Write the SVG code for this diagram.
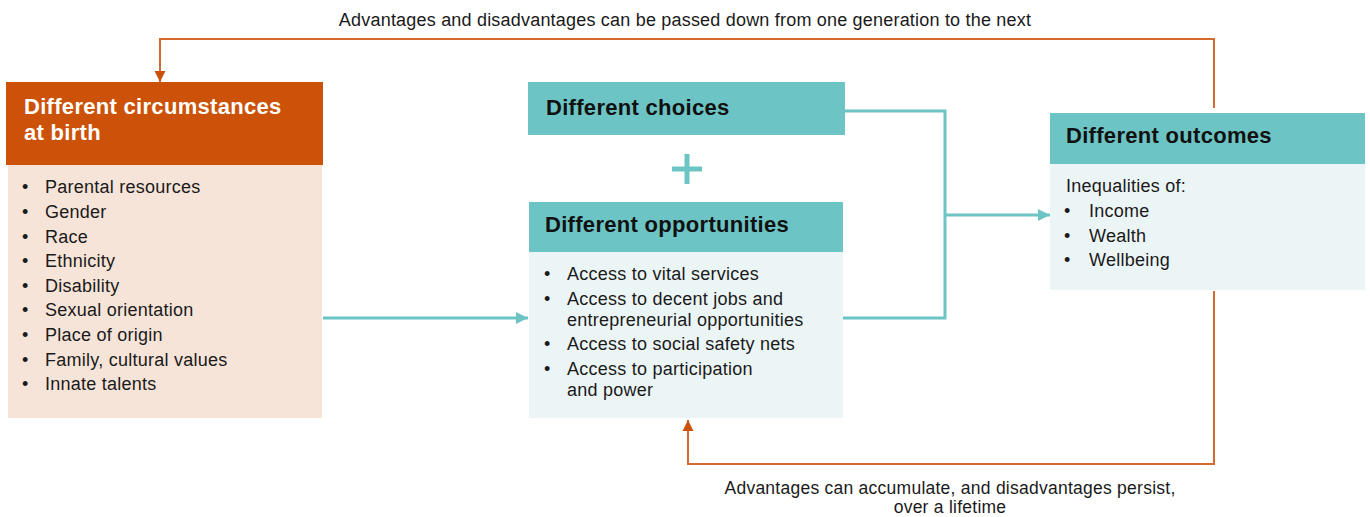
<svg xmlns="http://www.w3.org/2000/svg" width="1370" height="517" viewBox="0 0 1370 517">
<defs>
<style>
text{font-family:"Liberation Sans",Arial,sans-serif;fill:#1a1a1a}
.t{font-size:22px;font-weight:bold;fill:#111;letter-spacing:0.3px}
.tw{font-size:22px;font-weight:bold;fill:#fff;letter-spacing:0.3px}
.b{font-size:18px;letter-spacing:0.25px}
.l{font-size:18px;letter-spacing:0.2px}
.l2{font-size:17.5px;letter-spacing:0.25px}
.teal{fill:#6dc4c4}
.lt{fill:#ecf5f6}
.cl{fill:none;stroke:#6dc4c4;stroke-width:3}
.ol{fill:none;stroke:#d46a2e;stroke-width:2}
</style>
<marker id="at" viewBox="0 0 10 10" refX="10" refY="5" markerWidth="12" markerHeight="16" markerUnits="userSpaceOnUse" orient="auto"><path d="M0,0L10,5L0,10Z" fill="#6dc4c4"/></marker>
<marker id="ao" viewBox="0 0 10 10" refX="10" refY="5" markerWidth="11" markerHeight="16" markerUnits="userSpaceOnUse" orient="auto"><path d="M0,0L10,5L0,10Z" fill="#cb5208"/></marker>
</defs>
<rect width="1370" height="517" fill="#fff"/>
<g id="connectors">
<path class="cl" d="M845,111H945V318H843"/>
<path class="cl" d="M945,215H1050" marker-end="url(#at)"/>
<path class="cl" d="M323,318H528" marker-end="url(#at)"/>
<path class="ol" d="M1214,108V39H160V82" marker-end="url(#ao)"/>
<path class="ol" d="M1214,291V464H688V420" marker-end="url(#ao)"/>
<rect x="684.5" y="154" width="5" height="30" class="teal"/>
<rect x="672" y="166.5" width="30" height="5" class="teal"/>
</g>
<g id="label-top"><text class="l" x="685" y="26" text-anchor="middle">Advantages and disadvantages can be passed down from one generation to the next</text></g>
<g id="label-bottom"><text class="l2" x="950" y="494" text-anchor="middle">Advantages can accumulate, and disadvantages persist,</text><text class="l2" x="950" y="513" text-anchor="middle">over a lifetime</text></g>
<g id="circumstances">
<rect x="8" y="165" width="314" height="253" fill="#f7e4d8"/>
<rect x="6" y="82" width="317" height="83" fill="#cb5208"/>
<text class="tw" x="24" y="114">Different circumstances</text>
<text class="tw" x="24" y="140">at birth</text>
<g class="b">
<text x="22" y="193">•</text><text x="45" y="193">Parental resources</text>
<text x="22" y="218">•</text><text x="45" y="218">Gender</text>
<text x="22" y="243">•</text><text x="45" y="243">Race</text>
<text x="22" y="267">•</text><text x="45" y="267">Ethnicity</text>
<text x="22" y="292">•</text><text x="45" y="292">Disability</text>
<text x="22" y="316">•</text><text x="45" y="316">Sexual orientation</text>
<text x="22" y="341">•</text><text x="45" y="341">Place of origin</text>
<text x="22" y="366">•</text><text x="45" y="366">Family, cultural values</text>
<text x="22" y="390">•</text><text x="45" y="390">Innate talents</text>
</g>
</g>
<g id="choices">
<rect x="528" y="82" width="317" height="53" class="teal"/>
<text class="t" x="546" y="115">Different choices</text>
</g>
<g id="opportunities">
<rect x="529" y="252" width="314" height="166" class="lt"/>
<rect x="529" y="202" width="314" height="50" class="teal"/>
<text class="t" x="545" y="232">Different opportunities</text>
<g class="b">
<text x="544" y="280">•</text><text x="567" y="280">Access to vital services</text>
<text x="544" y="305">•</text><text x="567" y="305">Access to decent jobs and</text>
<text x="567" y="326">entrepreneurial opportunities</text>
<text x="544" y="350">•</text><text x="567" y="350">Access to social safety nets</text>
<text x="544" y="375">•</text><text x="567" y="375">Access to participation</text>
<text x="567" y="396">and power</text>
</g>
</g>
<g id="outcomes">
<rect x="1050" y="164" width="315" height="126" class="lt"/>
<rect x="1050" y="113" width="315" height="51" class="teal"/>
<text class="t" x="1066" y="143">Different outcomes</text>
<g class="b">
<text x="1066" y="192">Inequalities of:</text>
<text x="1064" y="217">•</text><text x="1089" y="217">Income</text>
<text x="1064" y="242">•</text><text x="1089" y="242">Wealth</text>
<text x="1064" y="266">•</text><text x="1089" y="266">Wellbeing</text>
</g>
</g>
</svg>
